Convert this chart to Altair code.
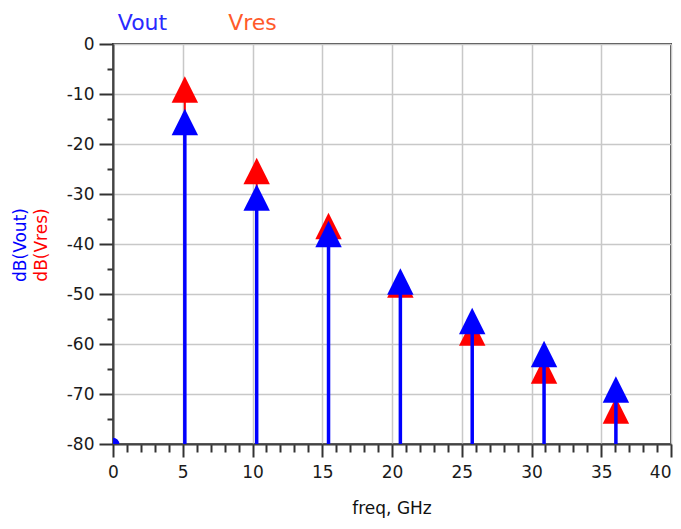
import altair as alt
import pandas as pd

# ---- data ----
freq_ghz = [5.15, 10.3, 15.45, 20.6, 25.75, 30.9, 36.05]
vout_db = [-15.6, -30.7, -38.0, -47.5, -55.4, -62.0, -69.1]
vres_db = [-9.1, -25.4, -36.4, -48.1, -57.7, -65.3, -73.3]
dc_freq = [0.0]
dc_vout = [-80.0]
series_names = ["Vout", "Vres"]
y_titles = ["dB(Vout)", "dB(Vres)"]
x_title = ["freq, GHz"]
x_tick_values = list(range(0, 41))
y_tick_values = list(range(0, -85, -5))

BLUE = "#0000ff"
RED = "#ff0000"
LEG_BLUE = "#2a2aff"
LEG_ORANGE = "#ff5a2a"
FONT = "DejaVu Sans"

df = pd.DataFrame({"freq": freq_ghz, "vout": vout_db, "vres": vres_db})
dc = pd.DataFrame({"freq": dc_freq, "vout": dc_vout})

xs = alt.Scale(domain=[0, 40], nice=False, zero=False)
ys = alt.Scale(domain=[-80, 0], nice=False, zero=False)

x_axis = alt.Axis(
    values=x_tick_values,
    title=None,
    labelExpr="datum.value % 5 === 0 ? '' + datum.value : ''",
    tickSize={"condition": {"test": "datum.value % 5 === 0", "value": 13}, "value": 8},
    gridOpacity={"condition": {"test": "datum.value % 5 === 0", "value": 1}, "value": 0},
    labelAlign={"condition": {"test": "datum.value === 40", "value": "right"}, "value": "center"},
    labelPadding=7,
)
y_axis = alt.Axis(
    values=y_tick_values,
    title=None,
    labelExpr="datum.value % 10 === 0 ? '' + datum.value : ''",
    tickSize={"condition": {"test": "datum.value % 10 === 0", "value": 14}, "value": 6},
    gridOpacity={"condition": {"test": "datum.value % 10 === 0", "value": 1}, "value": 0},
    labelPadding=5,
)

TRI = "M0,-1L1,1L-1,1Z"

base = alt.Chart(df)
X = alt.X("freq:Q", scale=xs, axis=x_axis)

red_stem = base.mark_rule(color=RED, strokeWidth=2).encode(
    x=X, y=alt.Y("vres:Q", scale=ys, axis=y_axis), y2=alt.datum(-80)
)
red_tri = base.mark_point(shape=TRI, size=700, filled=True, opacity=1, color=RED).encode(
    x=X, y=alt.Y("vres:Q", scale=ys, axis=y_axis)
)
blue_stem = base.mark_rule(color=BLUE, strokeWidth=3.5).encode(
    x=X, y=alt.Y("vout:Q", scale=ys, axis=y_axis), y2=alt.datum(-80)
)
blue_tri = base.mark_point(shape=TRI, size=700, filled=True, opacity=1, color=BLUE).encode(
    x=X, y=alt.Y("vout:Q", scale=ys, axis=y_axis)
)
dc_dot = alt.Chart(dc).mark_point(shape="circle", size=160, filled=True, opacity=1,
                                  color=BLUE, clip=True).encode(
    x=alt.X("freq:Q", scale=xs, axis=x_axis),
    y=alt.Y("vout:Q", scale=ys, axis=y_axis),
)

leg_df = pd.DataFrame({"name": series_names, "col": [LEG_BLUE, LEG_ORANGE],
                       "px": [29.5, 139.5]})
legend = alt.Chart(leg_df).mark_text(font=FONT, fontSize=22, baseline="alphabetic",
                                     align="center").encode(
    text="name:N",
    x=alt.X("px:Q", scale=None),
    y=alt.value(-14),
    color=alt.Color("col:N", scale=None),
)

yt_df = pd.DataFrame({"name": y_titles, "col": [BLUE, RED], "px": [-92, -71]})
ytitles = alt.Chart(yt_df).mark_text(font=FONT, fontSize=17, angle=270, align="center",
                                     baseline="middle").encode(
    text="name:N",
    x=alt.X("px:Q", scale=None),
    y=alt.value(201),
    color=alt.Color("col:N", scale=None),
)

xt_df = pd.DataFrame({"name": x_title})
xtitle = alt.Chart(xt_df).mark_text(font=FONT, fontSize=17, align="center",
                                    baseline="alphabetic", color="#111").encode(
    text="name:N",
    x=alt.value(279),
    y=alt.value(470),
)

chart = alt.layer(red_stem, red_tri, blue_stem, blue_tri, dc_dot, legend, ytitles, xtitle).properties(
    width=558,
    height=400,
    autosize=alt.AutoSizeParams(type="none"),
    padding={"left": 105, "top": 36, "right": 2, "bottom": 76},
).configure_view(
    stroke="#444444", strokeWidth=2
).configure_axis(
    domainColor="#444444", domainWidth=2,
    tickColor="#333333", tickWidth=2,
    gridColor="#c8c8c8", gridWidth=1.5,
    labelFont=FONT, labelFontSize=17, labelColor="#1a1a1a",
)

chart.save("out.html", embed_options={"renderer": "svg", "actions": False})
